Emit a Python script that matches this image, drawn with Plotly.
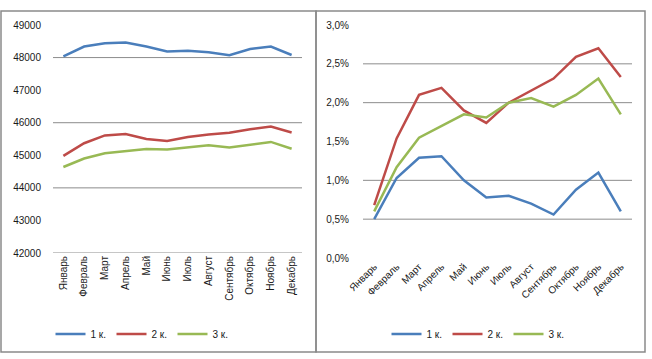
import plotly.graph_objects as go

months = ["Январь", "Февраль", "Март", "Апрель", "Май", "Июнь", "Июль",
          "Август", "Сентябрь", "Октябрь", "Ноябрь", "Декабрь"]
series_names = ["1 к.", "2 к.", "3 к."]

# Left panel: levels
left_1 = [48040, 48340, 48440, 48460, 48340, 48190, 48210, 48160, 48070, 48265, 48340, 48080]
left_2 = [44980, 45370, 45610, 45650, 45500, 45440, 45560, 45640, 45690, 45800, 45880, 45700]
left_3 = [44640, 44900, 45060, 45130, 45190, 45180, 45250, 45310, 45240, 45320, 45410, 45200]

# Right panel: shares (fractions)
right_1 = [0.0050, 0.0103, 0.0129, 0.0131, 0.0100, 0.0078, 0.0080, 0.0070, 0.0056, 0.0088, 0.0110, 0.0060]
right_2 = [0.0068, 0.0154, 0.0210, 0.0219, 0.0190, 0.0174, 0.0200, 0.0216, 0.0231, 0.0259, 0.0270, 0.0233]
right_3 = [0.0060, 0.0117, 0.0155, 0.0170, 0.0185, 0.0181, 0.0200, 0.0206, 0.0195, 0.0210, 0.0231, 0.0185]

left_grid = [42000, 44000, 46000, 48000]
right_grid = [0.005, 0.010, 0.020, 0.025]

colors = ["#4A7EBB", "#BE4B48", "#98B954"]
W, H = 652, 359


def px(x):
    return x / W


def py(y):
    return 1 - y / H


fig = go.Figure()
for name, vals, c in zip(series_names, [left_1, left_2, left_3], colors):
    fig.add_trace(go.Scatter(x=months, y=vals, name=name, mode="lines",
                             line=dict(color=c, width=2.5),
                             xaxis="x", yaxis="y", legend="legend"))
for name, vals, c in zip(series_names, [right_1, right_2, right_3], colors):
    fig.add_trace(go.Scatter(x=months, y=vals, name=name, mode="lines",
                             line=dict(color=c, width=2.5),
                             xaxis="x2", yaxis="y2", legend="legend2"))

tick_font = dict(family="Liberation Sans", size=10, color="#1a1a1a")
leg_common = dict(orientation="h", xanchor="center", yanchor="middle",
                  font=dict(family="Liberation Sans", size=10, color="#1a1a1a"),
                  bgcolor="rgba(0,0,0,0)", itemwidth=30, tracegroupgap=0,
                  entrywidth=16)

fig.update_layout(
    template="none",
    width=W, height=H,
    margin=dict(l=0, r=0, t=0, b=0, pad=0),
    paper_bgcolor="white", plot_bgcolor="white",
    separators=", ",
    font=dict(family="Liberation Sans", size=10, color="#1a1a1a"),
    xaxis=dict(domain=[px(53), px(302)], anchor="y", type="category",
               range=[-0.5, 11.5], showgrid=False, showline=False, zeroline=False,
               ticks="", tickangle=-90, tickfont=tick_font, automargin=False),
    yaxis=dict(domain=[py(253), py(25)], anchor="x", range=[42000, 49000],
               dtick=1000, tickformat="d", showgrid=False, zeroline=False,
               showline=False, ticks="", tickfont=tick_font, ticklabelstandoff=11,
               automargin=False),
    xaxis2=dict(domain=[px(363), px(632)], anchor="y2", type="category",
                range=[-0.5, 11.5], showgrid=False, showline=False, zeroline=False,
                ticks="", tickangle=-45, tickfont=tick_font, automargin=False),
    yaxis2=dict(domain=[py(258), py(25)], anchor="x2", range=[0, 0.03],
                dtick=0.005, tickformat=".1%", showgrid=False, zeroline=False,
                showline=False, ticks="", tickfont=tick_font, ticklabelstandoff=13,
                automargin=False),
    legend=dict(x=px(142), y=py(334), **leg_common),
    legend2=dict(x=px(478), y=py(334), **leg_common),
)

for g in left_grid:
    fig.add_shape(type="line", xref="x domain", yref="y", x0=0, x1=1, y0=g, y1=g,
                  line=dict(color="#8c8c8c", width=1), layer="below")
for g in right_grid:
    fig.add_shape(type="line", xref="x2 domain", yref="y2", x0=0, x1=1, y0=g, y1=g,
                  line=dict(color="#8c8c8c", width=1), layer="below")

# panel borders
fig.add_shape(type="rect", xref="paper", yref="paper",
              x0=px(1), x1=px(316), y0=py(352), y1=py(11),
              line=dict(color="#8a8a8a", width=1.5))
fig.add_shape(type="rect", xref="paper", yref="paper",
              x0=px(316), x1=px(645), y0=py(352), y1=py(11),
              line=dict(color="#8a8a8a", width=1.5))

fig.write_html("out.html",
               config={"displayModeBar": False},
               post_script="document.body.style.margin='0px';document.body.style.overflow='hidden';")
